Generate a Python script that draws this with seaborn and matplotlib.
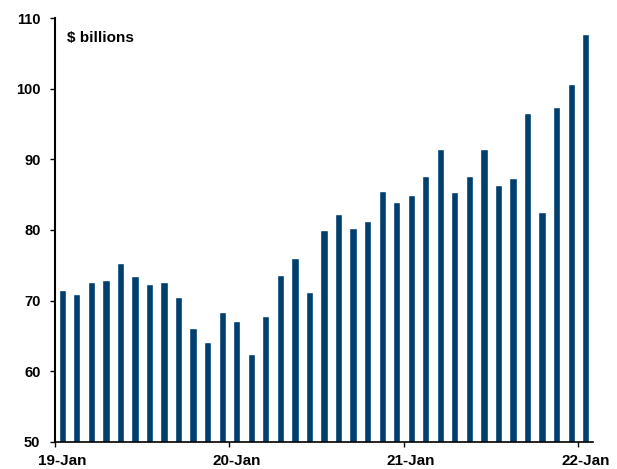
import matplotlib
matplotlib.use("Agg")
import matplotlib.pyplot as plt
import seaborn as sns
import pandas as pd

months = [f"{y}-{m:02d}" for y in (2019, 2020, 2021) for m in range(1, 13)] + ["2022-01"]
values = [71.5, 71.0, 72.6, 72.9, 75.4, 73.5, 72.3, 72.7, 70.5, 66.1, 64.1, 68.4,
          67.1, 62.5, 67.8, 73.6, 76.0, 71.2, 80.0, 82.2, 80.3, 81.3, 85.5, 83.9,
          85.0, 87.7, 91.4, 85.4, 87.6, 91.4, 86.4, 87.4, 96.5, 82.5, 97.4, 100.6,
          107.8]
tick_labels = ["19-Jan", "20-Jan", "21-Jan", "22-Jan"]
y_ticks = [50, 60, 70, 80, 90, 100, 110]

df = pd.DataFrame({"month": months, "value": values})

sns.set_style("white")
plt.rcParams["font.family"] = ["Liberation Sans", "DejaVu Sans"]
plt.rcParams["font.weight"] = "bold"

fig = plt.figure(figsize=(6.17, 4.69), dpi=100)
ax = fig.add_axes([0.0891, 0.0576, 0.8720, 0.9040])

sns.barplot(data=df, x="month", y="value", color="#003F6E", saturation=1,
            width=0.5, ax=ax)

ax.set_xlim(-0.5, len(months) - 0.5)
ax.set_ylim(50, 110)
ax.set_yticks(y_ticks)
ax.set_yticklabels([str(v) for v in y_ticks], fontsize=10.5, fontweight="bold")
# labels centred on January bars, tick marks at category boundaries
ax.set_xticks([0, 12, 24, 36])
ax.set_xticklabels(tick_labels, fontsize=11, fontweight="bold")
ax.set_xticks([-0.5, 11.5, 23.5, 35.5], minor=True)
ax.set_xlabel("")
ax.set_ylabel("")

for s in ["top", "right"]:
    ax.spines[s].set_visible(False)
ax.spines["left"].set_color("black")
ax.spines["left"].set_linewidth(1.5)
ax.spines["bottom"].set_color("black")
ax.spines["bottom"].set_linewidth(1.2)

ax.tick_params(axis="y", direction="out", length=3.5, width=1.0, color="black",
               labelcolor="black", left=True, pad=7)
ax.tick_params(axis="x", which="major", length=0, labelcolor="black", pad=8.5)
ax.tick_params(axis="x", which="minor", direction="out", length=3.5, width=1.0,
               color="black", bottom=True)

ax.text(0.0223, 0.954, "\\$ billions", transform=ax.transAxes, fontsize=11,
        fontweight="bold", va="center", ha="left", color="black")

fig.savefig("out.png", dpi=100)
